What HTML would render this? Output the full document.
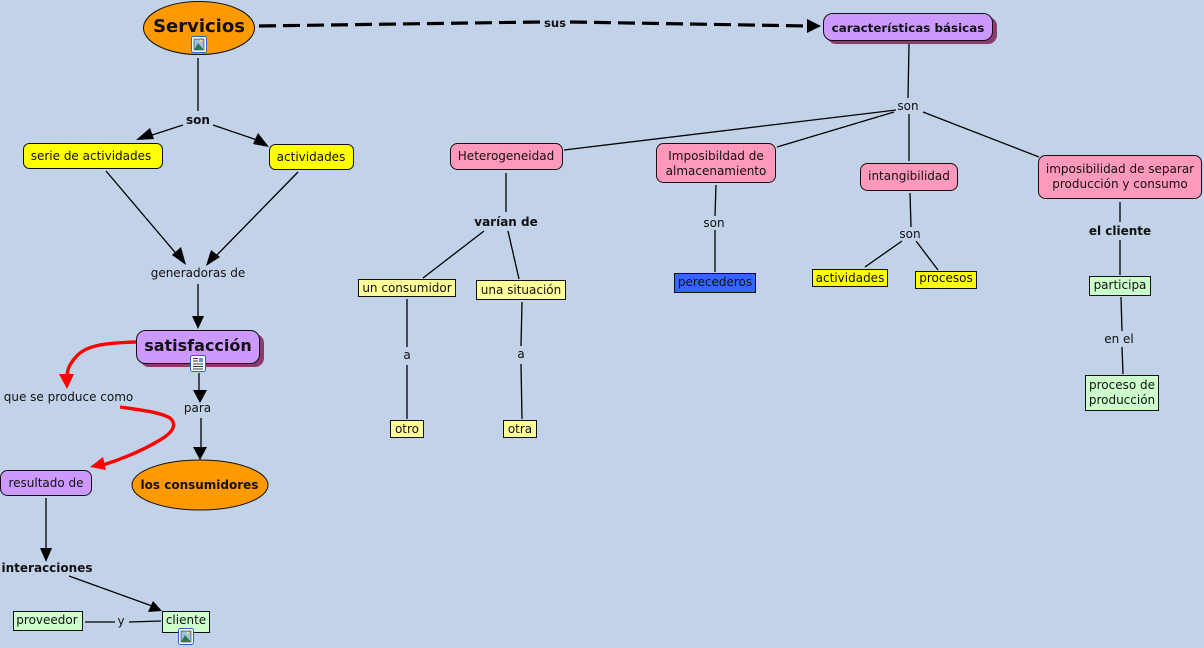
<!DOCTYPE html>
<html><head><meta charset="utf-8"><style>
html,body{margin:0;padding:0;background:#c2d2e8}
svg{display:block}
text{font-family:"DejaVu Sans",sans-serif;font-size:12px;text-anchor:middle;fill:#111}
.b{font-weight:bold}
.l{stroke:#000;stroke-width:1.3;fill:none}
</style></head><body>
<svg width="1204" height="648" viewBox="0 0 1204 648" xmlns="http://www.w3.org/2000/svg">
<rect width="1204" height="648" fill="#c2d2e8"/>
<!-- connectors -->
<path class="l" d="M198 58V111M183 125L146 137M213 125L257 140M106 171L179 257M298 172L214 258M198 284V319M199 373V393M201 418V450M46 498V552M69 576L152 606M85 622H115M129 622L161 621"/>
<path class="l" d="M909 44L908 98M896 110L564 150M894 112L777 147M909 114V161M923 112L1039 157M506 173V212M484 231L423 278M508 231L519 279M407 299V347M407 365V419M522 302L521 346M521 364L522 419M716 185L715 216M715 230V272M910 193L911 227M902 241L865 267M916 241L938 270M1120 202V222M1120 240V275M1121 297L1122 331M1122 347L1123 374"/>
<path d="M259 26L540 22M570 22L808 26" stroke="#000" stroke-width="3.2" stroke-dasharray="17 7" fill="none"/>
<path d="M821 26L807 19V33Z" fill="#000"/>
<g fill="#000">
<path d="M136 140L150 128L154 139Z"/><path d="M269 147L253 144L258 133Z"/>
<path d="M186 265L172 255L181 247Z"/><path d="M206 266L211 250L220 257Z"/>
<path d="M198 329L192 316H204Z"/><path d="M200 403L193 390H207Z"/><path d="M200 460L193 447H207Z"/>
<path d="M46 562L40 548H52Z"/><path d="M162 611L148 612L153 601Z"/>
</g>
<!-- red -->
<path d="M136 342C105 343 85 345 75 358C68 366 67 372 67 378" stroke="#f00" stroke-width="3.4" fill="none"/>
<path d="M67 389L59 374H74Z" fill="#f00"/>
<path d="M120 407C140 410 160 412 170 418C178 425 172 433 160 440C145 449 125 458 103 465" stroke="#f00" stroke-width="3.4" fill="none"/>
<path d="M90 467L103 457L106 470Z" fill="#f00"/>
<!-- Servicios -->
<ellipse cx="199" cy="28" rx="55.500" ry="26.500" fill="#ff9900" stroke="#111"/>
<text x="199" y="32" class="b" style="font-size:18px">Servicios</text>
<!-- características -->
<rect x="827" y="17" width="170" height="27" rx="9" fill="#8f3a6e"/>
<rect x="823.500" y="13.500" width="169" height="27" rx="9" fill="#cc99ff" stroke="#111"/>
<text x="908" y="32" class="b" style="font-size:11.9px">características básicas</text>
<!-- yellow -->
<rect x="23.500" y="143.500" width="139" height="25" rx="6" fill="#ffff00" stroke="#111"/>
<text x="91" y="160">serie de actividades</text>
<rect x="269.500" y="144.500" width="84" height="25" rx="6" fill="#ffff00" stroke="#111"/>
<text x="311" y="161">actividades</text>
<!-- satisfaccion -->
<rect x="140" y="334" width="124" height="33" rx="9" fill="#8f3a6e"/>
<rect x="136.500" y="330.500" width="123" height="33" rx="9" fill="#cc99ff" stroke="#111"/>
<text x="198" y="351" class="b" style="font-size:16px">satisfacción</text>
<!-- los consumidores -->
<ellipse cx="200" cy="485" rx="68" ry="25" fill="#ff9900" stroke="#111"/>
<text x="199.500" y="489" class="b" style="font-size:12px">los consumidores</text>
<!-- resultado -->
<rect x="0.500" y="470.500" width="91" height="25" rx="7" fill="#cc99ff" stroke="#111"/>
<text x="46" y="487">resultado de</text>
<!-- green -->
<rect x="13.500" y="611.500" width="69" height="19" fill="#ccffcc" stroke="#111"/>
<text x="47" y="624">proveedor</text>
<rect x="162.500" y="611.500" width="47" height="21" fill="#ccffcc" stroke="#111"/>
<text x="186" y="624">cliente</text>
<!-- pink -->
<rect x="450.500" y="143.500" width="112" height="26" rx="7" fill="#ff99bb" stroke="#111"/>
<text x="506" y="160">Heterogeneidad</text>
<rect x="656.500" y="143.500" width="119" height="39" rx="7" fill="#ff99bb" stroke="#111"/>
<text x="716" y="160">Imposibildad de</text><text x="716" y="175">almacenamiento</text>
<rect x="860.500" y="163.500" width="97" height="27" rx="7" fill="#ff99bb" stroke="#111"/>
<text x="909" y="180">intangibilidad</text>
<rect x="1038.500" y="155.500" width="163" height="43" rx="7" fill="#ff99bb" stroke="#111"/>
<text x="1120" y="173">imposibilidad de separar</text><text x="1120" y="188">producción y consumo</text>
<!-- light yellow -->
<rect x="358.500" y="279.500" width="97" height="17" fill="#ffff99" stroke="#111"/>
<text x="407" y="292">un consumidor</text>
<rect x="476.500" y="280.500" width="89" height="19" fill="#ffff99" stroke="#111"/>
<text x="521" y="294">una situación</text>
<rect x="390.500" y="420.500" width="33" height="17" fill="#ffff99" stroke="#111"/>
<text x="407" y="433">otro</text>
<rect x="503.500" y="420.500" width="33" height="17" fill="#ffff99" stroke="#111"/>
<text x="520" y="433">otra</text>
<!-- blue / yellow -->
<rect x="674.500" y="273.500" width="81" height="19" fill="#3366ff" stroke="#111"/>
<text x="715" y="286">perecederos</text>
<rect x="812.500" y="269.500" width="75" height="17" fill="#ffff00" stroke="#111"/>
<text x="850" y="282">actividades</text>
<rect x="915.500" y="271.500" width="61" height="17" fill="#ffff00" stroke="#111"/>
<text x="946" y="282">procesos</text>
<rect x="1089.500" y="276.500" width="61" height="19" fill="#ccffcc" stroke="#111"/>
<text x="1120" y="289">participa</text>
<rect x="1085.500" y="375.500" width="73" height="35" fill="#ccffcc" stroke="#111"/>
<text x="1122" y="389">proceso de</text><text x="1122" y="404">producción</text>
<!-- labels -->
<text x="555" y="27" class="b" style="font-size:11.500px">sus</text>
<text x="198" y="124" class="b">son</text>
<text x="198" y="277">generadoras de</text>
<text x="68.500" y="401">que se produce como</text>
<text x="197.500" y="412">para</text>
<text x="47" y="572" class="b">interacciones</text>
<text x="121" y="625">y</text>
<text x="908" y="110">son</text>
<text x="506" y="226" class="b">varían de</text>
<text x="407" y="359">a</text>
<text x="521" y="358">a</text>
<text x="714" y="227">son</text>
<text x="910" y="238">son</text>
<text x="1120" y="235" class="b">el cliente</text>
<text x="1119" y="343">en el</text>
<!-- icons -->
<g>
<rect x="191.500" y="36.500" width="15" height="16" rx="2" fill="#fff" stroke="#2a62c0"/>
<rect x="194" y="39" width="10" height="11" fill="#9cc4e8" stroke="#222" stroke-width=".6"/><path d="M194 50L198 43L204 50Z" fill="#2f7a4a"/><circle cx="201" cy="41" r="1.300" fill="#f5d76e"/>
<rect x="178.500" y="628.500" width="15" height="16" rx="2" fill="#fff" stroke="#2a62c0"/>
<rect x="181" y="631" width="10" height="11" fill="#9cc4e8" stroke="#222" stroke-width=".6"/><path d="M181 642L185 635L191 642Z" fill="#2f7a4a"/><circle cx="188" cy="633" r="1.300" fill="#f5d76e"/>
<rect x="190.500" y="355.500" width="15" height="16" rx="2" fill="#fff" stroke="#2a62c0"/>
<path d="M193 364H203M193 366.500H203M193 369H203M193 358.500H198M193 361H198" stroke="#333" stroke-width=".9"/><rect x="199" y="358" width="4" height="4" fill="#6a8fc0"/>
</g>
</svg>
</body></html>
